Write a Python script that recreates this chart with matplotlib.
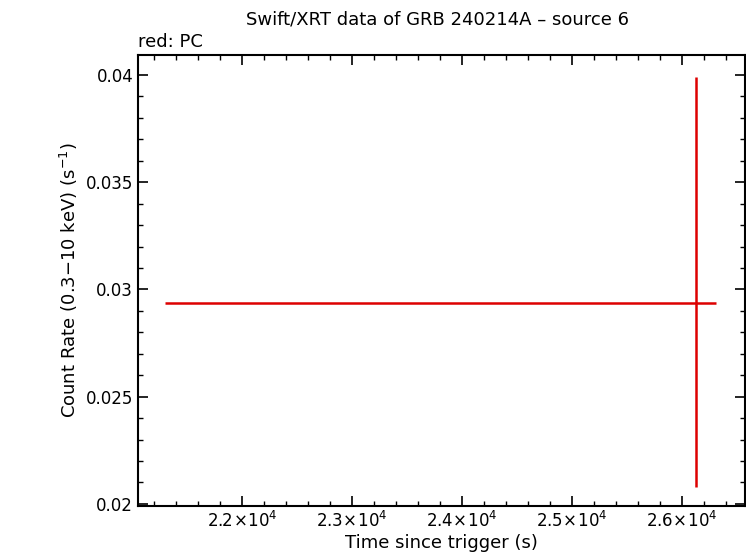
import matplotlib
matplotlib.use("Agg")
import matplotlib.pyplot as plt
from matplotlib.ticker import MultipleLocator, FuncFormatter

t = [26127]
t_lo = [4827]
t_hi = [182]
rate = [0.02937]
rate_lo = [0.00858]
rate_hi = [0.01053]

fig = plt.figure(figsize=(7.46, 5.58), dpi=100)
ax = fig.add_axes([138/746, 1-506/558, (745-138)/746, (506-55)/558])
ax.errorbar(t, rate, xerr=[t_lo, t_hi], yerr=[rate_lo, rate_hi], fmt='none',
            ecolor='#dd0000', elinewidth=1.8, capsize=0)
ax.set_xlim(21055, 26573)
ax.set_ylim(0.0199, 0.04093)
ax.xaxis.set_major_locator(MultipleLocator(1000))
ax.xaxis.set_minor_locator(MultipleLocator(200))
ax.yaxis.set_major_locator(MultipleLocator(0.005))
ax.yaxis.set_minor_locator(MultipleLocator(0.001))
ax.xaxis.set_major_formatter(FuncFormatter(lambda v, p: r'$%g\!\times\!10^{4}$' % (v/1e4)))
ax.yaxis.set_major_formatter(FuncFormatter(lambda v, p: '%g' % round(v, 4)))
ax.tick_params(which='both', direction='in', top=True, right=True, labelsize=12)
ax.tick_params(which='major', length=7, width=1.2)
ax.tick_params(which='minor', length=3.5, width=1)
for s in ax.spines.values():
    s.set_linewidth(1.5)
ax.set_xlabel('Time since trigger (s)', fontsize=13, labelpad=2)
ax.set_ylabel(r'Count Rate (0.3$-$10 keV) (s$^{-1}$)', fontsize=13)
fig.text(438/746, 1-20/558, 'Swift/XRT data of GRB 240214A \u2013 source 6', ha='center', va='center', fontsize=13)
fig.text(138/746, 1-42/558, 'red: PC', ha='left', va='center', fontsize=13)
fig.savefig('out.png', dpi=100)
